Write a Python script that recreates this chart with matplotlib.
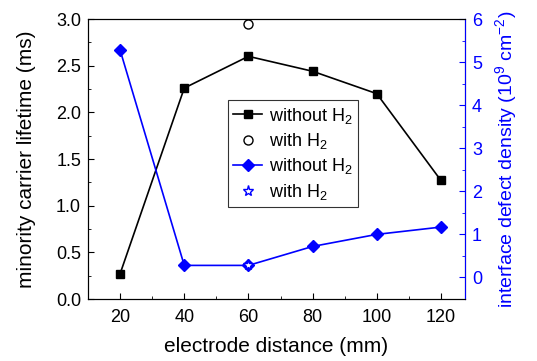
import matplotlib
matplotlib.use("Agg")
import matplotlib.pyplot as plt
from matplotlib.ticker import MultipleLocator

plt.rcParams['font.family'] = ['Liberation Sans', 'DejaVu Sans']
plt.rcParams['mathtext.fontset'] = 'custom'
plt.rcParams['mathtext.rm'] = 'Liberation Sans'
plt.rcParams['mathtext.it'] = 'Liberation Sans:italic'
plt.rcParams['mathtext.bf'] = 'Liberation Sans:bold'

# datos
distance = [20, 40, 60, 80, 100, 120]
lifetime_no_h2 = [0.27, 2.26, 2.60, 2.44, 2.20, 1.27]
lifetime_h2_x = [60]
lifetime_h2 = [2.95]
defect_no_h2 = [5.28, 0.28, 0.28, 0.72, 1.00, 1.17]
defect_h2_x = [60]
defect_h2 = [0.28]

fig = plt.figure(figsize=(5.37, 3.61), dpi=100)
ax = fig.add_axes([88 / 537, 1 - 299 / 361, (465 - 88) / 537, (299 - 19) / 361])
ax2 = ax.twinx()

h1, = ax.plot(distance, lifetime_no_h2, color='black', marker='s', markersize=6, lw=1.2)
h2, = ax.plot(lifetime_h2_x, lifetime_h2, ls='none', marker='o', mfc='white', mec='black', markersize=6.5)
h3, = ax2.plot(distance, defect_no_h2, color='blue', marker='D', markersize=6, lw=1.2)
h4, = ax2.plot(defect_h2_x, defect_h2, ls='none', marker='*', mfc='white', mec='blue', markersize=8)

ax.set_xlim(10, 127.5)
ax.set_ylim(0, 3.0)
ax2.set_ylim(-0.5, 6)

ax.xaxis.set_major_locator(MultipleLocator(20))
ax.xaxis.set_minor_locator(MultipleLocator(10))
ax.yaxis.set_minor_locator(MultipleLocator(0.25))
ax2.yaxis.set_major_locator(MultipleLocator(1))
ax2.yaxis.set_minor_locator(MultipleLocator(0.5))

ax.set_yticks([0, 0.5, 1.0, 1.5, 2.0, 2.5, 3.0])
ax.set_yticklabels(['0.0', '0.5', '1.0', '1.5', '2.0', '2.5', '3.0'])

ax.tick_params(axis='both', which='major', labelsize=13, length=4, direction='in', pad=5)
ax.tick_params(axis='x', which='major', pad=7)
ax.tick_params(axis='both', which='minor', length=2, direction='in')
ax.tick_params(top=False, right=False)
ax2.tick_params(axis='y', which='major', labelsize=13, length=4, direction='in', colors='blue', pad=5)
ax2.tick_params(axis='y', which='minor', length=2, direction='in', colors='blue')
ax2.spines['right'].set_color('blue')

ax.set_xlabel('electrode distance (mm)', fontsize=15, labelpad=8)
ax.set_ylabel('minority carrier lifetime (ms)', fontsize=15, labelpad=14)
ax2.set_ylabel('interface defect density (10$^{9}$ cm$^{-2}$)', fontsize=14, color='blue', labelpad=8)

leg = ax2.legend([h1, h2, h3, h4],
                 ['without H$_2$', 'with H$_2$', 'without H$_2$', 'with H$_2$'],
                 loc='upper left', bbox_to_anchor=(0.371, 0.71), borderaxespad=0,
                 fontsize=13, frameon=True, fancybox=False, edgecolor='black',
                 handlelength=1.6, handletextpad=0.4, borderpad=0.3, labelspacing=0.3)
leg.get_frame().set_linewidth(0.8)

fig.savefig('out.png', dpi=100)
